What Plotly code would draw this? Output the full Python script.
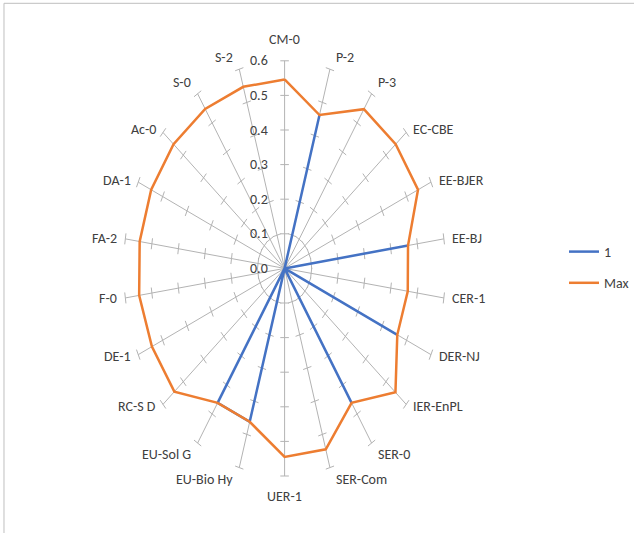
import numpy as np
import plotly.graph_objects as go

# Radar categories, clockwise from the top spoke
CATEGORIES = ["CM-0", "P-2", "P-3", "EC-CBE", "EE-BJER", "EE-BJ", "CER-1", "DER-NJ",
              "IER-EnPL", "SER-0", "SER-Com", "UER-1", "EU-Bio Hy", "EU-Sol G", "RC-S D",
              "DE-1", "F-0", "FA-2", "DA-1", "Ac-0", "S-0", "S-2"]

SERIES_1 = [0.0, 0.462, 0.0, 0.0, 0.0, 0.465, 0.0, 0.462, 0.0, 0.462, 0.0, 0.0,
            0.462, 0.462, 0.0, 0.0, 0.0, 0.0, 0.0, 0.0, 0.0, 0.0]
SERIES_MAX = [0.546, 0.462, 0.547, 0.548, 0.547, 0.465, 0.464, 0.462, 0.547, 0.462, 0.545,
              0.545, 0.462, 0.462, 0.544, 0.544, 0.548, 0.546, 0.547, 0.548, 0.548, 0.547]

RADIAL_TICKS = [0.0, 0.1, 0.2, 0.3, 0.4, 0.5, 0.6]
R_MAX = 0.6

# Canvas and radar geometry (pixels); the radar is taller than it is wide
W, H = 634, 533
CX, CY = 285.5, 268.4
SX, SY = 269.0, 346.0
TICK_HALF = 0.016

FONT = "Liberation Sans Narrow, Arial Narrow, Carlito, Roboto, sans-serif"
TEXT_COLOR = "#404040"
GRID_COLOR = "#b3b3b3"

n = len(CATEGORIES)
theta = 2 * np.pi * np.arange(n) / n
sin_t, cos_t = np.sin(theta), np.cos(theta)


def closed_xy(values):
    r = np.asarray(values, dtype=float)
    x = r * sin_t
    y = r * cos_t
    return np.append(x, x[0]), np.append(y, y[0])


# Spokes with cross ticks at every radial step
gx, gy = [], []
for k in range(n):
    gx += [0.0, R_MAX * sin_t[k], None]
    gy += [0.0, R_MAX * cos_t[k], None]
    for r in RADIAL_TICKS[1:]:
        px, py = r * sin_t[k], r * cos_t[k]
        nx, ny = cos_t[k], -sin_t[k]
        gx += [px - TICK_HALF * nx, px + TICK_HALF * nx, None]
        gy += [py - TICK_HALF * ny, py + TICK_HALF * ny, None]

fig = go.Figure()
fig.add_trace(go.Scatter(x=gx, y=gy, mode="lines", line=dict(color=GRID_COLOR, width=1),
                         hoverinfo="skip", showlegend=False))

x1, y1 = closed_xy(SERIES_1)
fig.add_trace(go.Scatter(x=x1, y=y1, mode="lines", name="1", legendgroup="a",
                         line=dict(color="#4472C4", width=2.5)))
xm, ym = closed_xy(SERIES_MAX)
fig.add_trace(go.Scatter(x=xm, y=ym, mode="lines", name="Max", legendgroup="b",
                         line=dict(color="#ED7D31", width=2.5)))

annotations = []
# Value labels along the top spoke
for v in RADIAL_TICKS:
    annotations.append(dict(x=0, y=v, xref="x", yref="y", text=f"{v:.1f}", showarrow=False,
                            xanchor="right", yanchor="middle", xshift=-15,
                            font=dict(family=FONT, size=14, color=TEXT_COLOR)))

# Category labels at the spoke ends
for k, name in enumerate(CATEGORIES):
    s, c = sin_t[k], cos_t[k]
    if abs(s) < 0.1:
        xa, xs = "center", 0
        ya = "bottom" if c > 0 else "top"
        ys = 11 if c > 0 else -10
    else:
        xa = "left" if s > 0 else "right"
        xs = np.sign(s) * (3 + 3 * abs(s))
        if c > 0.75:
            ya, ys = "bottom", 1
        elif c < -0.75:
            ya, ys = "top", -1
        else:
            ya, ys = "middle", 4 * c
    annotations.append(dict(x=R_MAX * s, y=R_MAX * c, xref="x", yref="y", text=name,
                            showarrow=False, xanchor=xa, yanchor=ya, xshift=xs, yshift=ys,
                            font=dict(family=FONT, size=14, color=TEXT_COLOR)))

fig.update_layout(
    width=W, height=H,
    margin=dict(l=0, r=0, t=0, b=0),
    paper_bgcolor="white", plot_bgcolor="white",
    xaxis=dict(range=[-CX / SX, (W - CX) / SX], visible=False, fixedrange=True),
    yaxis=dict(range=[-(H - CY) / SY, CY / SY], visible=False, fixedrange=True),
    annotations=annotations,
    legend=dict(x=566 / W, xanchor="left", y=1 - 267.5 / H, yanchor="middle",
                traceorder="grouped", tracegroupgap=10, itemwidth=30,
                font=dict(family=FONT, size=14, color=TEXT_COLOR),
                bgcolor="rgba(0,0,0,0)"),
    shapes=[dict(type="rect", xref="paper", yref="paper", x0=4 / W, x1=1.02,
                 y0=-0.02, y1=1 - 3.3 / H, line=dict(color="#bfbfbf", width=1))],
)

fig.write_html("out.html")
